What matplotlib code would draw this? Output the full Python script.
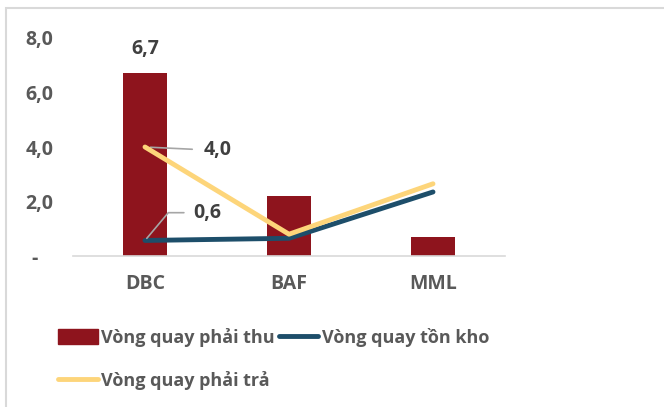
import matplotlib.pyplot as plt
from matplotlib.lines import Line2D
from matplotlib.patches import Patch, Rectangle

plt.rcParams['font.family'] = ['Open Sans', 'DejaVu Sans']
plt.rcParams['font.weight'] = 'bold'

companies = ['DBC', 'BAF', 'MML']
phai_thu = [6.7, 2.2, 0.7]
ton_kho = [0.57, 0.65, 2.35]
phai_tra = [4.0, 0.8, 2.65]
y_ticks = [0, 2, 4, 6, 8]
y_labels = ['-   ', '2,0', '4,0', '6,0', '8,0']

red = '#8E141D'
blue = '#1D4E6A'
yellow = '#FDD57A'
gray_text = '#595959'
dark_text = '#404040'

fig = plt.figure(figsize=(6.64, 4.07), dpi=100)
# light frame round the chart area
fig.patches.append(Rectangle((6 / 664, -0.1), 1.2, 1.1 - 8 / 407, transform=fig.transFigure,
                             fill=False, edgecolor='#D9D9D9', linewidth=1.5))

ax = fig.add_axes([73 / 664, 1 - 256 / 407, 432 / 664, 218 / 407])
x = range(len(companies))
ax.bar(x, phai_thu, width=0.31, color=red, zorder=2)
ax.plot(x, ton_kho, color=blue, linewidth=3.5, solid_capstyle='round', zorder=3)
ax.plot(x, phai_tra, color=yellow, linewidth=3.5, solid_capstyle='round', zorder=4)

ax.set_xlim(-0.5, 2.5)
ax.set_ylim(0, 8)
ax.set_yticks(y_ticks)
ax.set_yticklabels(y_labels)
ax.set_xticks(list(x))
ax.set_xticklabels(companies)
ax.tick_params(axis='both', length=0, labelcolor=gray_text)
ax.tick_params(axis='y', pad=14, labelsize=14)
ax.tick_params(axis='x', pad=13, labelsize=14)
for s in ['top', 'right', 'left']:
    ax.spines[s].set_visible(False)
ax.spines['bottom'].set_color('#D9D9D9')
ax.spines['bottom'].set_linewidth(1.2)

# data labels
ax.annotate('6,7', (0, phai_thu[0]), xytext=(0, 17.5), textcoords='offset points',
            ha='center', va='center', fontsize=14, color=dark_text)
ax.annotate('4,0', (0, phai_tra[0]), xytext=(42, -2.5), textcoords='offset points',
            ha='left', va='center', fontsize=14, color=dark_text,
            arrowprops=dict(arrowstyle='-', color='#A6A6A6', lw=1.2, shrinkA=6, shrinkB=4))
ax.annotate('0,6', (0, ton_kho[0]), xytext=(35, 20), textcoords='offset points',
            ha='left', va='center', fontsize=14, color=dark_text,
            arrowprops=dict(arrowstyle='-', color='#A6A6A6', lw=1.2, shrinkA=5, shrinkB=2,
                            connectionstyle='angle,angleA=0,angleB=50,rad=0'))

handles = [Patch(color=red), Line2D([], [], color=yellow, lw=3.5, solid_capstyle='round'),
           Line2D([], [], color=blue, lw=3.5, solid_capstyle='round')]
labels = ['Vòng quay phải thu', 'Vòng quay phải trả', 'Vòng quay tồn kho']
leg = fig.legend(handles, labels, loc='upper left', bbox_to_anchor=(58 / 664, 1 - 328 / 407),
                 ncol=2, frameon=False, fontsize=13, handlelength=2.2, handleheight=0.9,
                 handletextpad=0.2, columnspacing=0.2, labelspacing=1.35, borderpad=0,
                 borderaxespad=0)
for t in leg.get_texts():
    t.set_color(gray_text)

fig.savefig('out.png', dpi=100)
